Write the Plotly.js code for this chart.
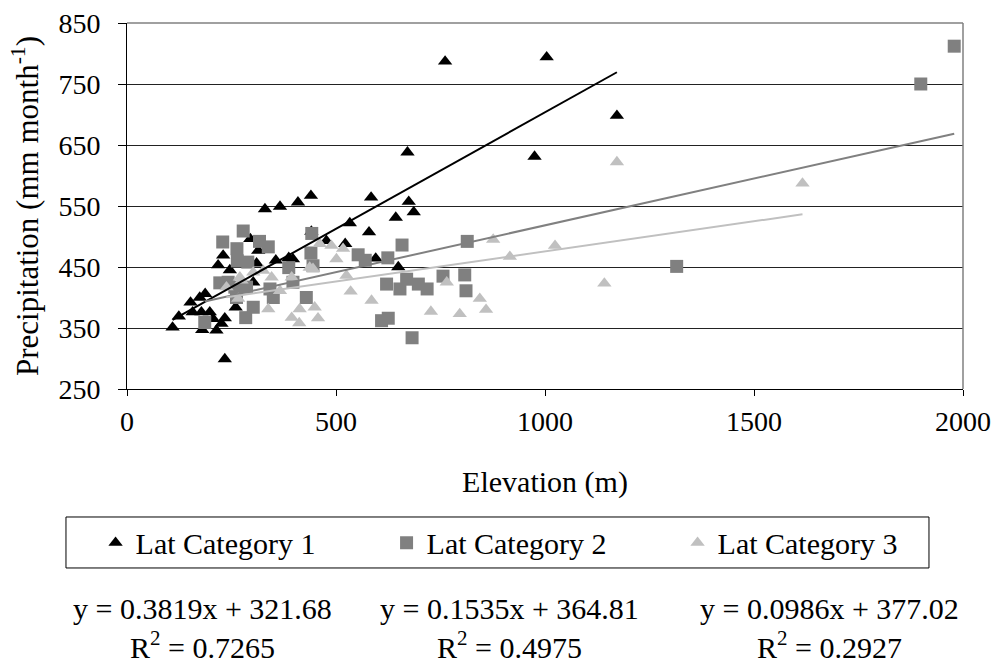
<!DOCTYPE html>
<html>
<head>
<meta charset="utf-8">
<script src="https://cdn.plot.ly/plotly-3.0.1.min.js"></script>
<style>html,body{margin:0;padding:0;background:#fff;}#chart{width:999px;height:669px;}</style>
</head>
<body>
<div id="chart"></div>
<script>
// Category names
const seriesNames = ["Lat Category 1", "Lat Category 2", "Lat Category 3"];

// Lat Category 1 (elevation m, precipitation mm/month)
const cat1X = [109,124,152,174,187,157,178,198,206,234,180,214,226,234,218,230,246,295,314,310,330,366,409,440,356,387,397,441,260,302,477,533,522,584,674,686,643,579,595,649,671,975,1172,761,1004];
const cat1Y = [351,369,392,400,406,376,376,376,365,366,347,346,357,299,453,469,445,496,477,456,545,549,556,567,461,465,463,508,384,425,493,522,488,564,557,540,531,507,464,450,638,631,698,787,794];

// Lat Category 2
const cat2X = [278,229,263,317,338,442,440,264,289,387,445,222,242,397,429,186,284,302,262,350,553,570,624,658,814,621,653,669,697,718,756,808,811,609,625,682,1315,1899,1979,286,258,342];
const cat2Y = [509,491,480,492,483,505,473,460,458,449,452,424,425,425,400,359,367,384,400,400,470,461,465,486,492,422,414,430,422,414,435,437,411,362,366,334,451,750,812,417,417,414];

// Lat Category 3
const cat3X = [489,517,501,525,535,585,727,765,796,844,859,876,916,1024,1172,1142,1616,449,457,270,326,394,461,437,366,338,394,413,412,266,238,274,302,346,445];
const cat3Y = [485,480,463,436,410,395,377,425,373,398,380,495,467,485,622,423,587,384,366,433,444,433,488,449,411,381,367,381,358,398,417,428,441,433,447];

// Linear trendline coefficients (as printed)
const slopes = [0.3819, 0.1535, 0.0986];
const intercepts = [321.68, 364.81, 377.02];
const eqTexts = ["y = 0.3819x + 321.68", "y = 0.1535x + 364.81", "y = 0.0986x + 377.02"];
const r2Texts = ["R<sup>2</sup> = 0.7265", "R<sup>2</sup> = 0.4975", "R<sup>2</sup> = 0.2927"];

// Axis ticks
const xTicks = [0, 500, 1000, 1500, 2000];
const yTicks = [250, 350, 450, 550, 650, 750, 850];

const FONT = "'Liberation Serif', 'Times New Roman', Times, serif";
const colors = ["#000000", "#808080", "#c0c0c0"];
const symbols = ["triangle-up", "square", "triangle-up"];
const sizes = [12.5, 13, 12.5];
const xs = [cat1X, cat2X, cat3X];
const ys = [cat1Y, cat2Y, cat3Y];

const traces = [];
for (let i = 0; i < 3; i++) {
  traces.push({
    type: "scatter", mode: "markers", name: seriesNames[i],
    x: xs[i], y: ys[i],
    marker: {symbol: symbols[i], size: sizes[i], color: colors[i], line: {width: 0}},
    cliponaxis: false
  });
}
for (let i = 0; i < 3; i++) {
  const mn = Math.min(...xs[i]), mx = Math.max(...xs[i]);
  traces.push({
    type: "scatter", mode: "lines", showlegend: false, hoverinfo: "skip",
    x: [mn, mx], y: [slopes[i] * mn + intercepts[i], slopes[i] * mx + intercepts[i]],
    line: {color: colors[i], width: 2}
  });
}

const eqX = [0.0909, 0.458, 0.84];
const annotations = [];
for (let i = 0; i < 3; i++) {
  annotations.push({xref: "paper", yref: "paper", x: eqX[i], y: -0.601, xanchor: "center", yanchor: "middle",
    text: eqTexts[i], showarrow: false, font: {family: FONT, size: 30, color: "#000"}});
  annotations.push({xref: "paper", yref: "paper", x: eqX[i], y: -0.70, xanchor: "center", yanchor: "middle",
    text: r2Texts[i], showarrow: false, font: {family: FONT, size: 30, color: "#000"}});
}

const layout = {
  width: 999, height: 669,
  margin: {l: 127, r: 36, t: 23, b: 280},
  paper_bgcolor: "#fff", plot_bgcolor: "#fff",
  font: {family: FONT, size: 28, color: "#000"},
  showlegend: true,
  legend: {orientation: "h", x: -0.0376, y: -0.42, xanchor: "left", yanchor: "middle",
    entrywidth: 246, entrywidthmode: "pixels", bgcolor: "rgba(0,0,0,0)", borderwidth: 0,
    font: {family: FONT, size: 30, color: "#000"}},
  xaxis: {range: [0, 2000], tickvals: xTicks, ticktext: xTicks.map(String),
    showgrid: false, zeroline: false, showline: true, linecolor: "#000", linewidth: 1,
    ticks: "outside", ticklen: 6, tickcolor: "#000", ticklabelstandoff: 1,
    tickfont: {family: FONT, size: 28, color: "#000"},
    title: {text: "Elevation (m)", standoff: 35, font: {family: FONT, size: 30, color: "#000"}}},
  yaxis: {range: [250, 850], tickvals: yTicks, ticktext: yTicks.map(String),
    showgrid: true, gridcolor: "#222", gridwidth: 1, zeroline: false,
    showline: true, linecolor: "#000", linewidth: 1,
    ticks: "outside", ticklen: 8, tickcolor: "#000", ticklabelstandoff: 12,
    tickfont: {family: FONT, size: 28, color: "#000"},
    title: {text: "Precipitation (mm month<sup>-1</sup>)", standoff: 10, font: {family: FONT, size: 31, color: "#000"}}},
  shapes: [
    {type: "line", xref: "paper", yref: "paper", x0: 0, x1: 1, y0: 1, y1: 1, line: {color: "#808080", width: 1.5}},
    {type: "line", xref: "paper", yref: "paper", x0: 1, x1: 1, y0: 0, y1: 1, line: {color: "#808080", width: 1.5}},
    {type: "rect", xref: "paper", yref: "paper", x0: -0.073, x1: 0.9593, y0: -0.489, y1: -0.3497, line: {color: "#000", width: 1}, fillcolor: "rgba(0,0,0,0)"}
  ],
  annotations: annotations
};

Plotly.newPlot("chart", traces, layout, {displayModeBar: false, staticPlot: true});
</script>
</body>
</html>
